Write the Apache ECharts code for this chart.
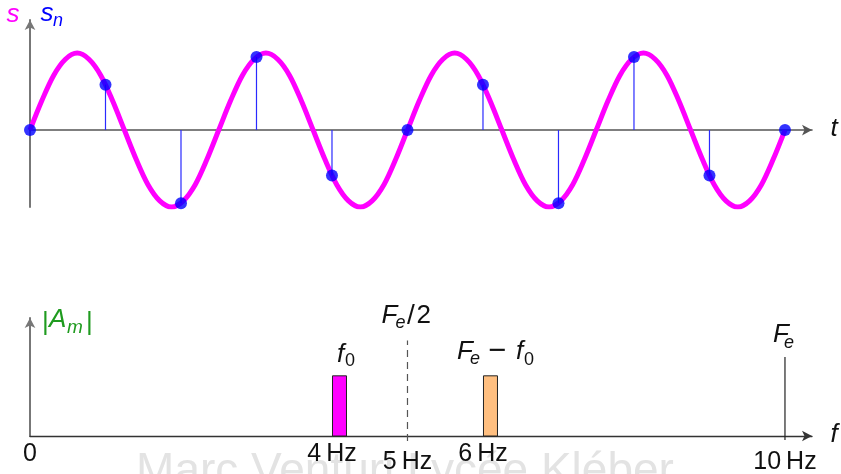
<!DOCTYPE html>
<html><head><meta charset="utf-8">
<script src="https://cdn.jsdelivr.net/npm/echarts@6/dist/echarts.min.js"></script>
<style>html,body{margin:0;padding:0;background:#fff}#c{width:841px;height:474px}</style>
</head><body><div id="c"></div><script>
// ---- top plot: analog signal s(t) (t in ms) ----
const curveT = [0,15.6,31.3,46.9,62.5,78.1,93.8,109.4,125,140.6,156.3,171.9,187.5,203.1,218.8,234.4,
  250,265.6,281.3,296.9,312.5,328.1,343.8,359.4,375,390.6,406.3,421.9,437.5,453.1,468.8,484.4,
  500,515.6,531.3,546.9,562.5,578.1,593.8,609.4,625,640.6,656.3,671.9,687.5,703.1,718.8,734.4,
  750,765.6,781.3,796.9,812.5,828.1,843.8,859.4,875,890.6,906.3,921.9,937.5,953.1,968.8,984.4,1000];
const curveS = [0,0.38,0.71,0.92,1,0.92,0.71,0.38,0,-0.38,-0.71,-0.92,-1,-0.92,-0.71,-0.38,
  0,0.38,0.71,0.92,1,0.92,0.71,0.38,0,-0.38,-0.71,-0.92,-1,-0.92,-0.71,-0.38,
  0,0.38,0.71,0.92,1,0.92,0.71,0.38,0,-0.38,-0.71,-0.92,-1,-0.92,-0.71,-0.38,
  0,0.38,0.71,0.92,1,0.92,0.71,0.38,0,-0.38,-0.71,-0.92,-1,-0.92,-0.71,-0.38,0];
// samples s_n
const sampleT = [0,100,200,300,400,500,600,700,800,900,1000];
const sampleS = [0,0.59,-0.95,0.95,-0.59,0,0.59,-0.95,0.95,-0.59,0];
// ---- bottom plot: spectrum ----
const specF = [4, 6];
const specA = [0.51, 0.51];
const specColors = ['#ff00ff', '#ffbf80'];
const halfFe = 5, halfFeTop = 0.81;
const Fe = 10, FeTop = 0.67;
const tickValues = [0, 4, 5, 6, 10];
const tickLabels = ['0', '4\u2009Hz', '5\u2009Hz', '6\u2009Hz', '10\u2009Hz'];
const tickLow = [false, false, true, false, true];

const FONT = '"Liberation Sans", "DejaVu Sans", sans-serif';
const chart = echarts.init(document.getElementById('c'), null, {renderer: 'canvas'});

const arrowAxis = (color, w) => ({
  show: true, onZero: true,
  symbol: ['none', 'arrow'], symbolSize: [8, 10],
  lineStyle: {color: color, width: w}
});
const hidden = {axisTick: {show: false}, axisLabel: {show: false}, splitLine: {show: false}};

const option = {
  animation: false,
  backgroundColor: '#ffffff',
  grid: [
    {left: 30, right: 29, top: 20, bottom: 267, containLabel: false},
    {left: 30, right: 29, top: 318, bottom: 38, containLabel: false}
  ],
  xAxis: [
    Object.assign({type: 'value', gridIndex: 0, min: 0, max: 1035.8, axisLine: arrowAxis('#555', 1.6)}, hidden),
    Object.assign({type: 'value', gridIndex: 1, min: 0, max: 10.358, axisLine: arrowAxis('#333', 1.4)}, hidden)
  ],
  yAxis: [
    Object.assign({type: 'value', gridIndex: 0, min: -1, max: 1.43, axisLine: arrowAxis('#777', 2)}, hidden),
    Object.assign({type: 'value', gridIndex: 1, min: 0, max: 1, axisLine: arrowAxis('#777', 2)}, hidden)
  ],
  series: [
    {
      type: 'line', xAxisIndex: 0, yAxisIndex: 0, z: 2,
      data: curveT.map((t, i) => [t, curveS[i]]),
      smooth: 0.33, showSymbol: false, symbol: 'none',
      lineStyle: {color: '#ff00ff', width: 5}
    },
    {
      type: 'custom', xAxisIndex: 0, yAxisIndex: 0, z: 3,
      data: sampleT.map((t, i) => [t, sampleS[i]]),
      renderItem: (params, api) => {
        const p0 = api.coord([api.value(0), 0]);
        const p1 = api.coord([api.value(0), api.value(1)]);
        return {type: 'line', shape: {x1: p0[0], y1: p0[1], x2: p1[0], y2: p1[1]},
          style: {stroke: '#2a2aff', lineWidth: 1.2}};
      }
    },
    {
      type: 'scatter', xAxisIndex: 0, yAxisIndex: 0, z: 4,
      data: sampleT.map((t, i) => [t, sampleS[i]]),
      symbol: 'circle', symbolSize: 12,
      itemStyle: {color: '#0000ff'}
    },
    {
      type: 'custom', xAxisIndex: 1, yAxisIndex: 1, z: 3,
      data: specF.map((f, i) => [f, specA[i], i]),
      renderItem: (params, api) => {
        const p0 = api.coord([api.value(0), 0]);
        const p1 = api.coord([api.value(0), api.value(1)]);
        return {type: 'rect', shape: {x: p0[0] + 0.5, y: p1[1], width: 14, height: p0[1] - p1[1]},
          style: {fill: specColors[api.value(2)], stroke: '#222', lineWidth: 1}};
      }
    },
    {
      type: 'custom', xAxisIndex: 1, yAxisIndex: 1, z: 2,
      data: [[halfFe, halfFeTop, 1], [Fe, FeTop, 0]],
      renderItem: (params, api) => {
        const dashed = api.value(2) === 1;
        const p0 = api.coord([api.value(0), 0]);
        const p1 = api.coord([api.value(0), api.value(1)]);
        return {type: 'line', shape: {x1: p0[0], y1: p0[1] + (dashed ? 5 : 4), x2: p1[0], y2: p1[1]},
          style: {stroke: dashed ? '#555' : '#222', lineWidth: 1.2, lineDash: dashed ? [7, 5] : null}};
      }
    }
  ]
};
chart.setOption(option);

// y is the text baseline
function txt(x, y, text, size, color, italic, align) {
  return {type: 'text', x: x, y: y - 0.3 * size, z: 100, silent: true,
    style: {text: text, fill: color || '#111',
      font: (italic ? 'italic ' : '') + size + 'px ' + FONT,
      align: align || 'center', verticalAlign: 'middle'}};
}
const px = (gi, v) => chart.convertToPixel({gridIndex: gi}, v);

const g = [];
// watermark
g.push(Object.assign(txt(405, 486, 'Marc Venturi Lycée Kléber', 46, '#e3e3e3', false), {z: 0}));
// top labels
g.push(txt(13, 23, 's', 26, '#ff00ff', true));
g.push(txt(47, 22, 's', 26, '#0000ff', true));
g.push(txt(58, 26, 'n', 18, '#0000ff', true));
g.push(txt(834, 137, 't', 26, '#111', true));
// bottom labels
g.push(txt(42, 331, '|', 26, '#1f9b1f', false, 'left'));
g.push(txt(49, 328, 'A', 26, '#1f9b1f', true, 'left'));
g.push(txt(67, 333, 'm', 19, '#1f9b1f', true, 'left'));
g.push(txt(86, 331, '|', 26, '#1f9b1f', false, 'left'));
g.push(txt(834, 443, 'f', 26, '#111', true));
// math labels anchored to the frequency axis
const pHalf = px(1, [halfFe, halfFeTop]);
g.push(txt(pHalf[0] - 26, pHalf[1] - 17, 'F', 26, '#111', true, 'left'));
g.push(txt(pHalf[0] - 12, pHalf[1] - 12, 'e', 18, '#111', true, 'left'));
g.push(txt(pHalf[0] - 0.5, pHalf[1] - 16, '/', 28, '#111', false, 'left'));
g.push(txt(pHalf[0] + 9, pHalf[1] - 17, '2', 26, '#111', false, 'left'));
const pF0 = px(1, [specF[0], specA[0]]);
g.push(txt(pF0[0] + 5, pF0[1] - 13, 'f', 26, '#111', true, 'left'));
g.push(txt(pF0[0] + 13, pF0[1] - 9, '0', 18, '#111', false, 'left'));
const pF1 = px(1, [specF[1], specA[1]]);
g.push(txt(pF1[0] - 26, pF1[1] - 16, 'F', 26, '#111', true, 'left'));
g.push(txt(pF1[0] - 13, pF1[1] - 11, 'e', 18, '#111', true, 'left'));
g.push(txt(pF1[0] + 5, pF1[1] - 15, '\u2212', 31, '#111', false, 'left'));
g.push(txt(pF1[0] + 33, pF1[1] - 16, 'f', 26, '#111', true, 'left'));
g.push(txt(pF1[0] + 41, pF1[1] - 10, '0', 18, '#111', false, 'left'));
const pFe = px(1, [Fe, FeTop]);
g.push(txt(pFe[0] - 12, pFe[1] - 14, 'F', 26, '#111', true, 'left'));
g.push(txt(pFe[0] - 1, pFe[1] - 9, 'e', 18, '#111', true, 'left'));
// tick labels
tickValues.forEach((v, i) => {
  const p = px(1, [v, 0]);
  g.push(txt(p[0], p[1] + (tickLow[i] ? 34 : 26), tickLabels[i], 25, '#111', false, 'center'));
});
chart.setOption({graphic: {elements: g}});
</script></body></html>
